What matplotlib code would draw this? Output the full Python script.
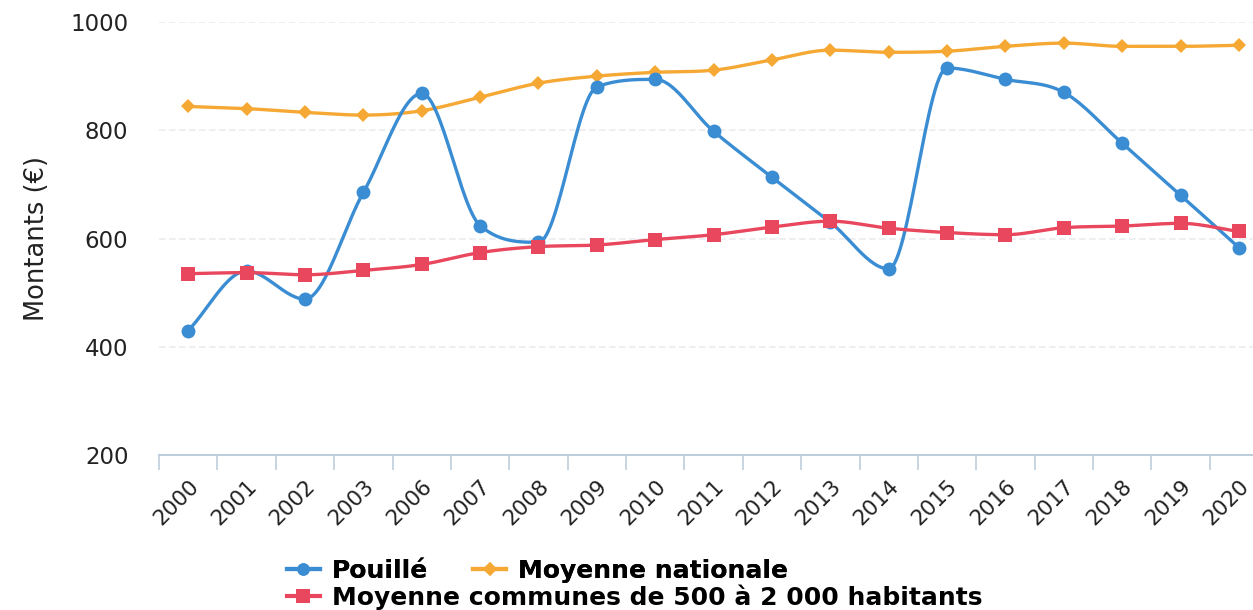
import numpy as np
import matplotlib
matplotlib.use("Agg")
import matplotlib.pyplot as plt
from matplotlib.lines import Line2D

plt.rcParams['font.family'] = ['DejaVu Sans']

years = ["2000", "2001", "2002", "2003", "2006", "2007", "2008", "2009", "2010",
         "2011", "2012", "2013", "2014", "2015", "2016", "2017", "2018", "2019", "2020"]
pouille = [430, 540, 488, 685, 868, 624, 593, 880, 894, 798, 713, 630, 544,
           915, 894, 870, 776, 680, 583]
nationale = [844, 840, 833, 828, 836, 861, 887, 900, 907, 911, 930, 948, 944,
             946, 955, 961, 955, 955, 957]
communes = [535, 537, 533, 541, 552, 574, 585, 588, 598, 607, 621, 632, 619,
            611, 607, 620, 623, 628, 613]

labels = ["Pouillé", "Moyenne nationale", "Moyenne communes de 500 à 2 000 habitants"]
colors = ["#3a8dd3", "#f5a833", "#e8475e"]

W, H = 1253, 610
fig = plt.figure(figsize=(W / 100, H / 100), dpi=100)
ax = fig.add_axes([159 / W, 1 - 455 / H, 1 - 159 / W, (455 - 22) / H])
ax.set_ylim(200, 1000)
ax.set_xlim(-0.5, 18.24)


def monotone(xs, ys, n=30):
    xs = np.asarray(xs, float)
    ys = np.asarray(ys, float)
    m = len(xs)
    d = np.diff(ys) / np.diff(xs)
    mk = np.zeros(m)
    mk[0], mk[-1] = d[0], d[-1]
    for i in range(1, m - 1):
        if d[i - 1] == 0 or d[i] == 0 or np.sign(d[i - 1]) != np.sign(d[i]):
            mk[i] = 0
        else:
            mk[i] = (d[i - 1] + d[i]) / 2
    for i in range(m - 1):
        if d[i] == 0:
            mk[i] = mk[i + 1] = 0
            continue
        a, b = mk[i] / d[i], mk[i + 1] / d[i]
        sq = a * a + b * b
        if sq <= 9:
            continue
        tau = 3 / np.sqrt(sq)
        mk[i] = a * tau * d[i]
        mk[i + 1] = b * tau * d[i]
    u = np.linspace(0, 1, n)[:, None]
    out = []
    for i in range(m - 1):
        dx = (xs[i + 1] - xs[i]) / 3
        p0 = np.array([xs[i], ys[i]])
        p3 = np.array([xs[i + 1], ys[i + 1]])
        p1 = np.array([xs[i] + dx, ys[i] + mk[i] * dx])
        p2 = np.array([xs[i + 1] - dx, ys[i + 1] - mk[i + 1] * dx])
        seg = ((1 - u) ** 3) * p0 + 3 * ((1 - u) ** 2) * u * p1 + 3 * (1 - u) * u ** 2 * p2 + u ** 3 * p3
        out.append(seg if i == 0 else seg[1:])
    out = np.vstack(out)
    return out[:, 0], out[:, 1]


x = np.arange(len(years))

for v in [400, 600, 800, 1000]:
    ax.axhline(v, color="#ececf0", lw=1.2, ls=(0, (4, 2)), zorder=0)

series = [(pouille, "o", 10), (nationale, "D", 7.5), (communes, "s", 10.5)]
zs = [3, 2, 4]
for (vals, mk, ms), c, z in zip(series, colors, zs):
    sx, sy = monotone(x, vals)
    ax.plot(sx, sy, color=c, lw=2.4, zorder=z, solid_capstyle="round")
    ax.plot(x, vals, ls="none", marker=mk, ms=ms, color=c, zorder=z, markeredgewidth=0)

for s in ["top", "right", "left"]:
    ax.spines[s].set_visible(False)
ax.spines["bottom"].set_color("#b9c9d8")
ax.spines["bottom"].set_linewidth(1.3)

ax.set_yticks([200, 400, 600, 800, 1000])
ax.set_yticklabels(["200", "400", "600", "800", "1000"], fontsize=16.5, color="#222222")
ax.tick_params(axis="y", length=0, pad=22)

ax.set_xticks(x)
ax.set_xticklabels(years, rotation=45, ha="right", rotation_mode="anchor",
                   fontsize=15.5, color="#222222")
ax.tick_params(axis="x", which="major", length=0, pad=15)
ax.set_xticks(np.arange(len(years)) - 0.5, minor=True)
ax.tick_params(axis="x", which="minor", length=11, width=1.1, color="#b9c9d8", direction="out")

ax.set_ylabel("Montants (€)", fontsize=18.5, color="#222222")
ax.yaxis.set_label_coords((50 - 159) / 1094, 0.5)

handles = [Line2D([0], [0], color=c, lw=3, marker=m, ms=ms * 0.9, markeredgewidth=0)
           for c, (_, m, ms) in zip(colors, series)]
prop = {"size": 18, "weight": "bold"}
leg1 = fig.legend(handles[:2], labels[:2], loc="center left", bbox_to_anchor=(287 / W, 1 - 571 / H),
                  ncol=2, frameon=False, handlelength=1.3, handletextpad=0.5, columnspacing=1.8,
                  borderpad=0, borderaxespad=0, prop=prop)
leg2 = fig.legend(handles[2:], labels[2:], loc="center left", bbox_to_anchor=(287 / W, 1 - 597 / H),
                  frameon=False, handlelength=1.3, handletextpad=0.5,
                  borderpad=0, borderaxespad=0, prop=prop)
fig.add_artist(leg1)

fig.savefig("out.png", dpi=100, facecolor="white")
